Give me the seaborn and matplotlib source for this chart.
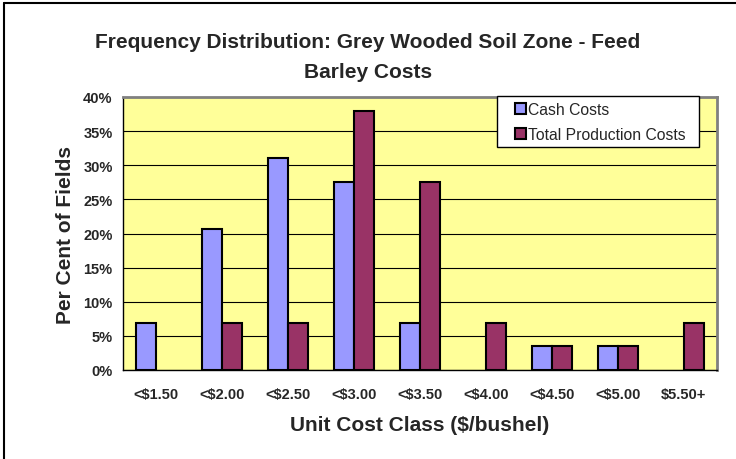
import matplotlib
matplotlib.use("Agg")
import matplotlib.pyplot as plt
import matplotlib.ticker as mticker
from matplotlib.lines import Line2D
from matplotlib.patches import Patch, Rectangle
from matplotlib.legend_handler import HandlerPatch
import seaborn as sns
import pandas as pd

# ==========================================================
# DATA
# ==========================================================

cost_classes = ["<$1.50", "<$2.00", "<$2.50", "<$3.00", "<$3.50",
                "<$4.00", "<$4.50", "<$5.00", "$5.50+"]
cash_costs = [6.9, 20.7, 31.0, 27.6, 6.9, 0.0, 3.45, 3.45, 0.0]
total_production_costs = [0.0, 6.9, 6.9, 37.9, 27.6, 6.9, 3.45, 3.45, 6.9]
series_names = ["Cash Costs", "Total Production Costs"]
series_colors = ["#9999FF", "#993366"]

chart_data = pd.DataFrame({
    "cost_class": cost_classes * 2,
    "percent": cash_costs + total_production_costs,
    "series": [series_names[0]] * len(cost_classes) + [series_names[1]] * len(cost_classes),
})


# small square legend key, pushed to the right of the handle box
def square_key(legend, orig_handle, xdescent, ydescent, width, height, fontsize):
    size = 8
    return Rectangle((-xdescent + width - size, -ydescent + (height - size) / 2), size, size)


# ==========================================================
# PLOT
# ==========================================================

sns.set_style("white")
plt.rcParams["font.family"] = ["Liberation Sans", "DejaVu Sans"]

fig = plt.figure(figsize=(7.36, 4.6), dpi=100)
ax = fig.add_axes([123 / 736, 1 - 371 / 460, (717 - 123) / 736, (371 - 98) / 460])

sns.barplot(
    data=chart_data, x="cost_class", y="percent", hue="series",
    palette=series_colors, saturation=1, width=0.6,
    edgecolor="black", linewidth=1.5, legend=False, ax=ax,
)

# hide empty bars (zero height)
for bar in ax.patches:
    if bar.get_height() == 0:
        bar.set_visible(False)

ax.set_facecolor("#FFFF99")
ax.set_ylim(0, 40)
ax.set_xlim(-0.5, len(cost_classes) - 0.5)
ax.yaxis.set_major_locator(mticker.MultipleLocator(5))
ax.yaxis.set_major_formatter(mticker.FuncFormatter(lambda v, p: f"{v:.0f}%"))
ax.yaxis.grid(True, color="black", linewidth=0.8)
ax.set_axisbelow(True)

# category boundary ticks like Excel
ax.set_xticks([i for i in range(len(cost_classes))])
ax.set_xticklabels(cost_classes, fontsize=10.5, fontweight="bold")
ax.set_xticks([i - 0.5 for i in range(len(cost_classes) + 1)], minor=True)
ax.tick_params(axis="x", which="major", length=0, pad=12)
ax.tick_params(axis="x", which="minor", length=5, width=1, direction="out", color="black")
ax.tick_params(axis="y", length=4, width=1, direction="out", color="black", labelsize=10.5)
for lbl in ax.get_yticklabels():
    lbl.set_fontweight("bold")

for side in ["top", "right"]:
    ax.spines[side].set_color("#808080")
    ax.spines[side].set_linewidth(2)
for side in ["left", "bottom"]:
    ax.spines[side].set_color("black")
    ax.spines[side].set_linewidth(1)

ax.set_xlabel("Unit Cost Class ($/bushel)", fontsize=15, fontweight="bold", labelpad=10)
ax.set_ylabel("Per Cent of Fields", fontsize=15, fontweight="bold", labelpad=6)

fig.text(0.5, 1 - 42 / 460, "Frequency Distribution: Grey Wooded Soil Zone - Feed",
         ha="center", va="center", fontsize=15, fontweight="bold")
fig.text(0.5, 1 - 72 / 460, "Barley Costs",
         ha="center", va="center", fontsize=15, fontweight="bold")

legend_handles = [Patch(facecolor=c, edgecolor="black", linewidth=1.5) for c in series_colors]
legend = ax.legend(
    legend_handles, [name + "  " for name in series_names],
    handler_map={Patch: HandlerPatch(patch_func=square_key)},
    loc="upper left", bbox_to_anchor=((497 - 123) / 594, 1.003), borderaxespad=0,
    frameon=True, fancybox=False, fontsize=11.3, handlelength=1.5,
    handleheight=0.8, handletextpad=0.1, borderpad=0.35, labelspacing=0.64,
)
legend.get_frame().set_edgecolor("black")
legend.get_frame().set_linewidth(1)
legend.get_frame().set_facecolor("white")
legend.get_frame().set_alpha(1)

# figure border (left and top only, as in the cropped original)
fig.lines.append(Line2D([4 / 736, 4 / 736], [0, 1 - 4 / 460], transform=fig.transFigure,
                        color="black", linewidth=1.5))
fig.lines.append(Line2D([4 / 736, 1], [1 - 4 / 460, 1 - 4 / 460], transform=fig.transFigure,
                        color="black", linewidth=1.5))

fig.savefig("out.png", dpi=100)
